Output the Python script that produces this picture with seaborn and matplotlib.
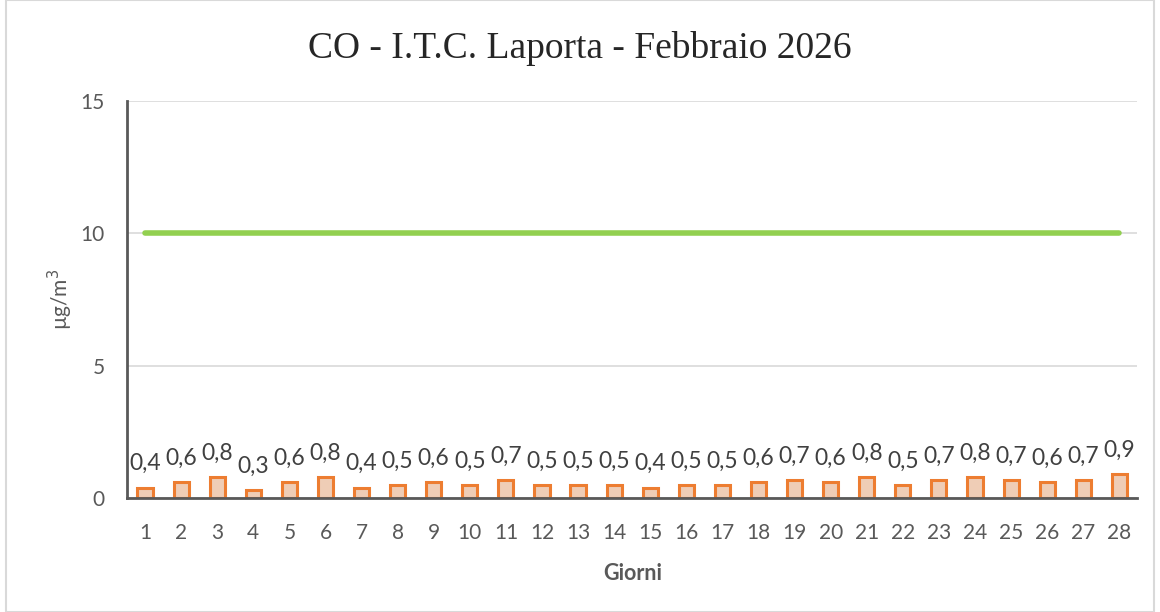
import matplotlib
matplotlib.use('Agg')
import matplotlib.pyplot as plt
import seaborn as sns
import pandas as pd

# Daily CO values, February 2026
giorni = list(range(1, 29))
valori = [0.4, 0.6, 0.8, 0.3, 0.6, 0.8, 0.4, 0.5, 0.6, 0.5, 0.7, 0.5, 0.5, 0.5,
          0.4, 0.5, 0.5, 0.6, 0.7, 0.6, 0.8, 0.5, 0.7, 0.8, 0.7, 0.6, 0.7, 0.9]
limite = [10] * 28

df = pd.DataFrame({'giorno': [str(g) for g in giorni], 'valore': valori, 'limite': limite})

sns.set_style('white')
plt.rcParams['font.family'] = ['Lato', 'DejaVu Sans']

fig = plt.figure(figsize=(11.6, 6.12), dpi=100)
ax = fig.add_axes([0.1095, 0.186, 0.871, 0.649])

sns.barplot(data=df, x='giorno', y='valore', ax=ax, width=0.42,
            color='#F8CBAD', edgecolor='#ED7D31', linewidth=2.2)
sns.lineplot(x=range(len(giorni)), y=df['limite'], ax=ax, color='#92D050',
             linewidth=4, solid_capstyle='round')

for i, v in enumerate(valori):
    ax.text(i, v + 0.5, f'{v:.1f}'.replace('.', ','), ha='center', va='bottom',
            fontsize=16.5, color='#404040')

ax.set_xlim(-0.5, len(giorni) - 0.5)
ax.set_ylim(0, 15)
ax.set_yticks([0, 5, 10, 15])
ax.yaxis.grid(True, color='#D9D9D9', linewidth=1.2)
ax.set_axisbelow(True)
ax.tick_params(axis='x', labelsize=15, colors='#595959', length=0, pad=18)
ax.tick_params(axis='y', labelsize=15, colors='#595959', length=0, pad=16)
for s in ['top', 'right']:
    ax.spines[s].set_visible(False)
for s in ['left', 'bottom']:
    ax.spines[s].set_color('#595959')
    ax.spines[s].set_linewidth(2)

ax.set_xlabel('Giorni', fontsize=15.5, fontweight='bold', color='#595959', labelpad=14)
ax.set_ylabel('µg/m$^3$', fontsize=15, color='#595959', labelpad=4)
fig.suptitle('CO - I.T.C. Laporta - Febbraio 2026', fontsize=27,
             family=['Liberation Serif'], y=0.95)

fig.patches.append(plt.Rectangle((0.005, 0.0), 0.99, 1.0, transform=fig.transFigure,
                                 fill=False, edgecolor='#D9D9D9', linewidth=1.5))

fig.savefig('out.png', dpi=100)
